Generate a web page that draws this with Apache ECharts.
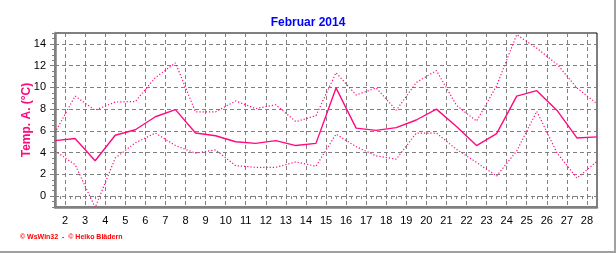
<!DOCTYPE html>
<html>
<head>
<meta charset="utf-8">
<script src="https://cdn.jsdelivr.net/npm/echarts@6/dist/echarts.min.js"></script>
<style>html,body{margin:0;padding:0;background:#fff;}#c{width:616px;height:253px;}</style>
</head>
<body>
<div id="c"></div>
<script>
// Days of February 2014 (value plotted at noon of each day)
var days = [1,2,3,4,5,6,7,8,9,10,11,12,13,14,15,16,17,18,19,20,21,22,23,24,25,26,27,28];
var tempMean = [5.1,5.3,3.25,5.6,6.1,7.3,7.95,5.8,5.55,5.0,4.85,5.1,4.65,4.85,9.95,6.25,6.05,6.3,7.0,8.0,6.4,4.65,5.75,9.2,9.7,7.9,5.35,5.45];
var tempHigh = [5.85,9.2,7.9,8.65,8.7,10.9,12.25,7.75,7.75,8.75,8.05,8.4,6.85,7.4,11.35,9.3,9.95,7.9,10.45,11.55,8.35,6.9,10.15,14.85,13.6,12.15,9.95,8.5];
var tempLow = [4.15,2.9,-1.05,3.5,4.9,5.8,4.65,3.95,4.25,2.8,2.65,2.65,3.15,2.75,5.7,4.55,3.7,3.4,5.8,5.8,4.3,3.1,1.85,4.15,7.8,4.0,1.65,3.2];
var xTickLabels = [2,3,4,5,6,7,8,9,10,11,12,13,14,15,16,17,18,19,20,21,22,23,24,25,26,27,28];
var yTickLabels = [0,2,4,6,8,10,12,14];

var NOON = 0.5;
function pairs(vals){ return days.map(function(d,i){ return [d + NOON, vals[i]]; }); }

var pink = '#ff0a7e';
var chart = echarts.init(document.getElementById('c'), null, {renderer:'canvas'});
chart.setOption({
  backgroundColor: '#ffffff',
  animation: false,
  title: {
    text: 'Februar 2014', left: 'center', top: 12,
    textStyle: {color: '#0000ff', fontSize: 12, fontWeight: 'bold', fontFamily: 'Liberation Sans, Arial, sans-serif'}
  },
  grid: {left: 55, right: 19, top: 33, bottom: 46, show: true, borderColor: '#000', borderWidth: 1, backgroundColor: '#fff'},
  xAxis: [{
    type: 'value', min: 1.5, max: 28.5, position: 'bottom',
    axisLine: {show: true, onZero: false, lineStyle: {color: '#808080', width: 2.5}},
    axisTick: {show: false, customValues: xTickLabels},
    axisLabel: {customValues: xTickLabels, color: '#000', fontSize: 11, margin: 8, fontFamily: 'Liberation Sans, Arial, sans-serif'},
    splitLine: {show: true, lineStyle: {color: '#808080', type: [4,3], width: 1}}
  },{
    type: 'value', min: 1.5, max: 28.5, interval: 0.25, position: 'bottom',
    axisLine: {show: false},
    axisTick: {show: true, length: 3, lineStyle: {color: '#808080', width: 1}},
    axisLabel: {show: false},
    splitLine: {show: false}
  }],
  yAxis: [{
    type: 'value', min: -1, max: 15, position: 'left',
    name: 'Temp. A. (°C)', nameLocation: 'middle', nameGap: 22, nameRotate: 90, nameMoveOverlap: false,
    nameTextStyle: {color: pink, fontSize: 12, fontWeight: 'bold', fontFamily: 'Liberation Sans, Arial, sans-serif'},
    axisLine: {show: true, onZero: false, lineStyle: {color: '#808080', width: 2.5}},
    axisTick: {show: true, customValues: yTickLabels, length: 5, lineStyle: {color: '#808080', width: 1}},
    axisLabel: {customValues: yTickLabels, color: '#000', fontSize: 11, margin: 9, fontFamily: 'Liberation Sans, Arial, sans-serif'},
    splitLine: {show: true, lineStyle: {color: '#808080', type: [4,3], width: 1}}
  },{
    type: 'value', min: -1, max: 15, interval: 0.5, position: 'left',
    axisLine: {show: false},
    axisTick: {show: true, length: 3, lineStyle: {color: '#808080', width: 1}},
    axisLabel: {show: false},
    splitLine: {show: false}
  }],
  series: [
    {name: 'max', type: 'line', data: pairs(tempHigh), symbol: 'none', clip: true,
     lineStyle: {color: pink, width: 1.2, type: [1.2, 2]}},
    {name: 'min', type: 'line', data: pairs(tempLow), symbol: 'none', clip: true,
     lineStyle: {color: pink, width: 1.2, type: [1.2, 2]}},
    {name: 'mittel', type: 'line', data: pairs(tempMean), symbol: 'none', clip: true,
     lineStyle: {color: pink, width: 1.4}}
  ],
  graphic: [
    {type: 'text', left: 20, top: 234, style: {text: '© WsWin32  -  © Heiko Blädern', fill: '#ff0000', font: 'bold 7px Liberation Sans, Arial, sans-serif'}},
    {type: 'rect', shape: {x: 614, y: 0, width: 2, height: 253}, style: {fill: '#a0a0a0'}},
    {type: 'rect', shape: {x: 0, y: 251, width: 616, height: 2}, style: {fill: '#a0a0a0'}}
  ]
});
</script>
</body>
</html>
